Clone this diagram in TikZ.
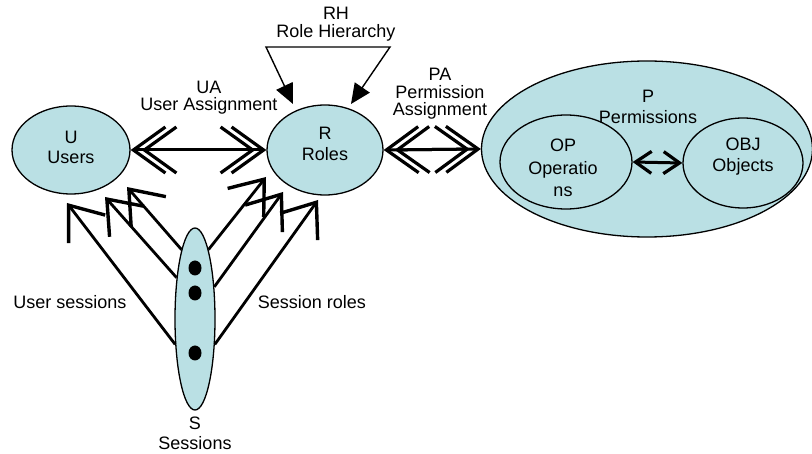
\documentclass[tikz,border=0pt]{standalone}
\usepackage{fontspec}
\setmainfont{Liberation Sans}
\usetikzlibrary{arrows.meta,shapes.geometric}
\definecolor{nodefill}{RGB}{186,224,228}
\begin{document}
\begin{tikzpicture}[x=1pt,y=-1pt,
  ell/.style={ellipse,draw,line width=1.3pt,fill=nodefill,inner sep=0pt,align=center,font=\fontsize{18}{21}\selectfont},
  lbl/.style={align=center,inner sep=0pt,font=\fontsize{18}{18}\selectfont},
  dblhead/.style={line width=3pt,{Straight Barb[length=32pt,width=46pt,line width=3.2pt]}-{Straight Barb[length=32pt,width=46pt,line width=3.2pt]}},
  smallhead/.style={line width=3pt,{Straight Barb[length=16pt,width=22pt,line width=3.2pt]}-{Straight Barb[length=16pt,width=22pt,line width=3.2pt]}},
  sessarrow/.style={line width=2.8pt,-{Straight Barb[length=30pt,width=46pt,line width=3.4pt]}},
  rharrow/.style={line width=1.4pt,{Triangle[length=20pt,width=18pt]}-{Triangle[length=20pt,width=18pt]}},
  dot/.style={ellipse,fill=black,minimum width=13pt,minimum height=15pt,inner sep=0pt}
]
\useasboundingbox (0,0) rectangle (812,454);

% big Permissions ellipse
\node[ell,minimum width=331pt,minimum height=176pt] (P) at (647,149) {};
\node[lbl,font=\fontsize{18}{21}\selectfont] (Ptext) at (648,107) {P\\Permissions};
\node[ell,minimum width=132pt,minimum height=94pt] (OP) at (566,162) {};
\node[lbl,font=\fontsize{18}{22.5}\selectfont] (OPt) at (563,168) {OP\\Operatio\\ns};
\node[ell,minimum width=120pt,minimum height=90pt] (OBJ) at (743,163) {};
\node[lbl,font=\fontsize{18}{21}\selectfont] (OBJt) at (743,157) {OBJ\\Objects};

\node[ell,minimum width=118pt,minimum height=88pt] (U) at (71,150) {};
\node[lbl,font=\fontsize{18}{20}\selectfont] (Ut) at (71,147) {U\\Users};
\node[ell,minimum width=116pt,minimum height=90pt] (R) at (325,150) {};
\node[lbl,font=\fontsize{18}{21}\selectfont] (Rt) at (325,144) {R\\Roles};
\node[ell,minimum width=40pt,minimum height=182pt] (S) at (195,319) {};
\node[dot] (d1) at (195,268) {};
\node[dot] (d2) at (195,293) {};
\node[dot] (d3) at (195,353) {};

% labels
\node[lbl] (RHt) at (336,24) {RH\\Role Hierarchy};
\node[lbl,font=\fontsize{18}{17}\selectfont] (UAt) at (209,98) {UA\\User Assignment};
\node[lbl,font=\fontsize{18}{17.5}\selectfont] (PAt) at (440,94) {PA\\Permission\\Assignment};
\node[lbl] (ust) at (70,302) {User sessions};
\node[lbl] (srt) at (312,302) {Session roles};
\node[lbl,font=\fontsize{18}{20}\selectfont] (St) at (195,433) {S\\Sessions};

% UA and PA double arrows
\draw[dblhead] (U.east) -- (R.west);
\draw[dblhead,shorten <=11pt,shorten >=11pt] (U.east) -- (R.west);
\draw[dblhead] (R.east) -- (P.west);
\draw[dblhead,shorten <=11pt,shorten >=11pt] (R.east) -- (P.west);

% OP <-> OBJ
\draw[smallhead] (OP.east) -- (OBJ.west);

% Role hierarchy
\coordinate (rhl) at (293,104);
\coordinate (rhr) at (351,104);
\coordinate (rhc1) at (266,47);
\coordinate (rhc2) at (390,47);
\draw[rharrow,line join=miter] (rhl) -- (rhc1) -- (rhc2) -- (rhr);

% session arrows to users
\coordinate (ua1) at (67,203);
\coordinate (ua2) at (105,197);
\coordinate (ua3) at (127,187);
\draw[sessarrow] (S.232) -- (ua1);
\draw[sessarrow] (S.114) -- (ua2);
\draw[sessarrow] (S.101) -- (ua3);

% session arrows to roles
\coordinate (ra1) at (266,177);
\coordinate (ra2) at (283,192);
\coordinate (ra3) at (318,200);
\draw[sessarrow] (S.79) -- (ra1);
\draw[sessarrow] (S.59) -- (ra2);
\draw[sessarrow] (S.-52) -- (ra3);
\end{tikzpicture}
\end{document}
